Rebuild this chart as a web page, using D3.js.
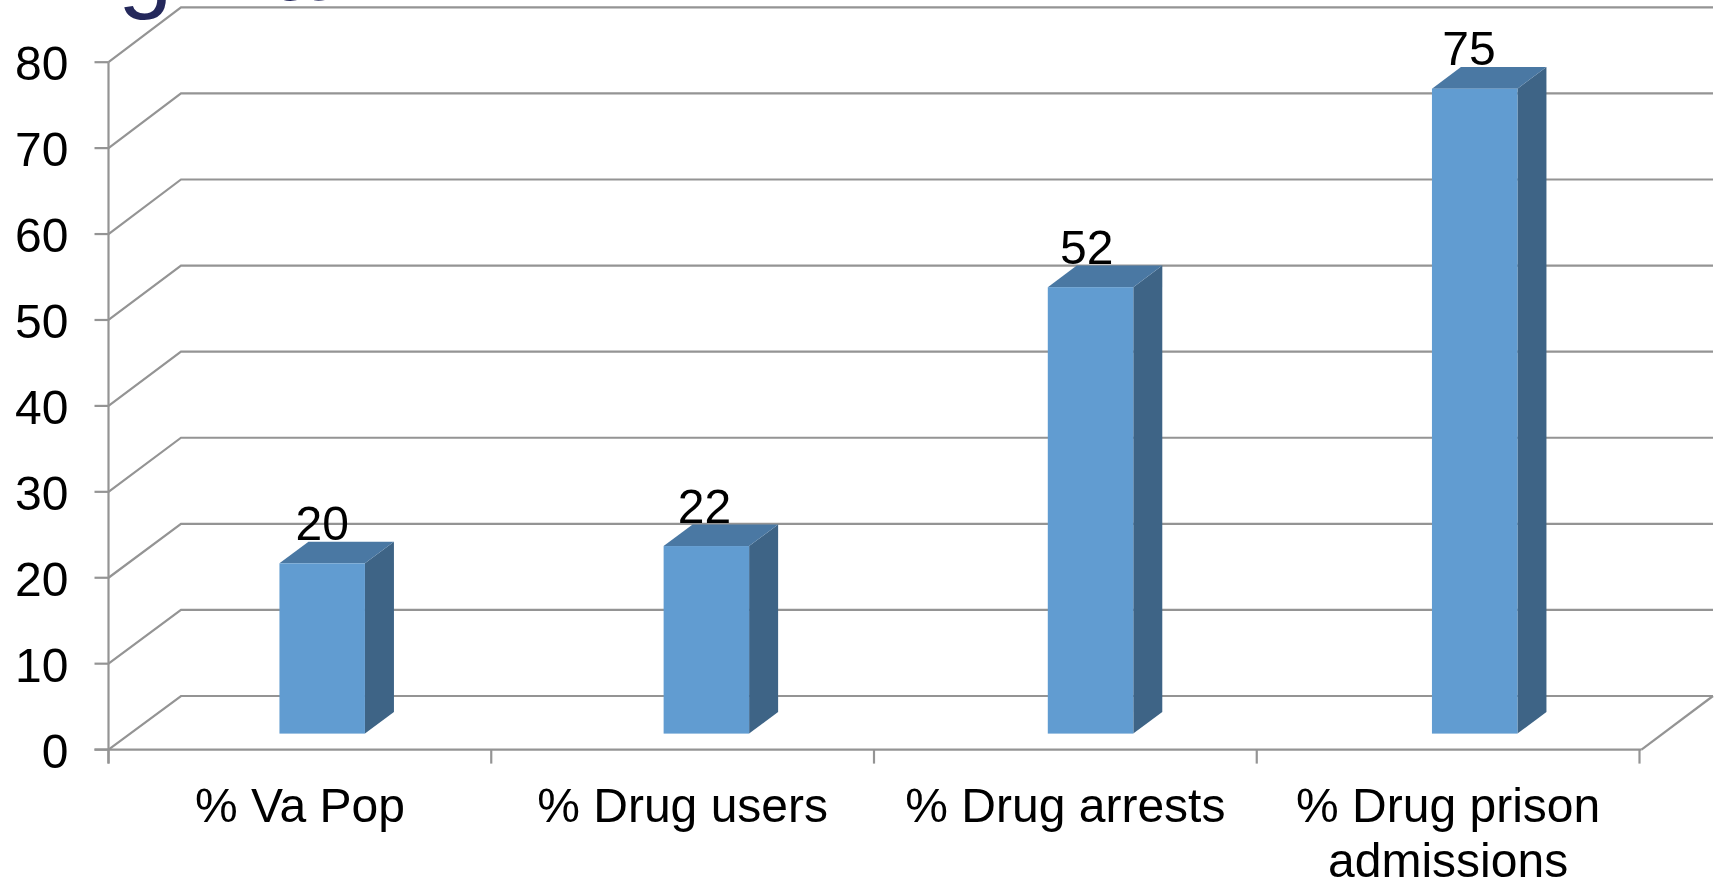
<!DOCTYPE html>
<html><head><meta charset="utf-8">
<script src="https://cdn.jsdelivr.net/npm/d3@7"></script>
<style>html,body{margin:0;padding:0;background:#fff;overflow:hidden}svg{display:block;filter:blur(0.45px)}text{font-family:"Liberation Sans",Arial,sans-serif;fill:#000}</style>
</head><body><svg id="c" width="1719" height="882"></svg>
<script>
const categories = ["% Va Pop", "% Drug users", "% Drug arrests", "% Drug prison admissions"];
const values = [20, 22, 52, 75];
const valueTicks = [0, 10, 20, 30, 40, 50, 60, 70, 80];
const titleText = "Virginia:";
const categoryLines = [["% Va Pop"], ["% Drug users"], ["% Drug arrests"], ["% Drug prison", "admissions"]];

const axisLeft = 108.5, axisRight = 1639.5, axisBottom = 749.6, axisTop = 62.2;
const backLeft = 181, backRight = 1713;
const barDepthX = 29, barDepthY = -21.6, barFrontBase = 733.6, barW = 85.5;
const grid = "#949494";
const fontSize = 48;
const svg = d3.select("#c");

const y = d3.scaleLinear().domain([0, 80]).range([axisBottom, axisTop]);
const yBack = d3.scaleLinear().domain([0, 80]).range([696, 7.3]);
const x = d3.scaleBand().domain(categories).range([axisLeft, axisRight]);
const barX = d3.scalePoint().domain(categories).range([322.2, 1474.7]);
const valueLabelX = d3.scalePoint().domain(categories).range([322.2, 1469]);
const barY = d3.scaleLinear().domain([20, 75]).range([563.3, 88.7]);

// title fragment cropped by the top edge
svg.append("text").attr("class", "title").attr("x", 0).attr("y", -0.3)
  .attr("font-size", 98).style("fill", "#24285b").text(titleText);

// back wall + side wall gridlines
const g = svg.append("g").attr("fill", "none").attr("stroke", grid).attr("stroke-width", 2.2);
g.selectAll("path.grid").data(valueTicks).join("path").attr("class", "grid")
  .attr("d", d => {
    const p = d3.path();
    p.moveTo(axisLeft, y(d));
    p.lineTo(backLeft, yBack(d));
    p.lineTo(backRight, yBack(d));
    return p.toString();
  });
// floor right edge
g.append("path").attr("d", () => {
  const p = d3.path();
  p.moveTo(axisRight + 2, axisBottom);
  p.lineTo(backRight, yBack(0));
  return p.toString();
});

// y axis
g.append("line").attr("x1", axisLeft).attr("x2", axisLeft).attr("y1", axisTop).attr("y2", axisBottom + 14);
g.selectAll("line.yt").data(valueTicks).join("line").attr("class", "yt")
  .attr("x1", axisLeft - 14).attr("x2", axisLeft).attr("y1", d => y(d)).attr("y2", d => y(d));
svg.selectAll("text.yl").data(valueTicks).join("text").attr("class", "yl")
  .attr("x", 68.5).attr("y", d => y(d) + 18).attr("text-anchor", "end").attr("font-size", fontSize).text(d => d);

// x axis
g.append("line").attr("x1", axisLeft - 14).attr("x2", axisRight + 2).attr("y1", axisBottom).attr("y2", axisBottom);
const xEdges = categories.map(c => x(c)).concat([axisRight]);
g.selectAll("line.xt").data(xEdges).join("line").attr("class", "xt")
  .attr("x1", d => d).attr("x2", d => d).attr("y1", axisBottom).attr("y2", axisBottom + 14);

// bars
const barG = svg.selectAll("g.bar").data(categories.map((c, i) => ({c, v: values[i]}))).join("g").attr("class", "bar");
const fx = d => barX(d.c) - barW / 2;
const ty = d => barY(d.v);
barG.append("path").attr("fill", "#3e6486").attr("d", d => {
  const a = fx(d) + barW;
  return `M${a},${barFrontBase}L${a + barDepthX},${barFrontBase + barDepthY}L${a + barDepthX},${ty(d) + barDepthY}L${a},${ty(d)}Z`;
});
barG.append("path").attr("fill", "#4a78a3").attr("d", d => {
  const a = fx(d);
  return `M${a},${ty(d)}L${a + barDepthX},${ty(d) + barDepthY}L${a + barW + barDepthX},${ty(d) + barDepthY}L${a + barW},${ty(d)}Z`;
});
barG.append("rect").attr("fill", "#619cd1").attr("x", fx).attr("y", ty).attr("width", barW).attr("height", d => barFrontBase - ty(d));
barG.append("text").attr("x", d => valueLabelX(d.c)).attr("y", d => ty(d) - 23.5)
  .attr("text-anchor", "middle").attr("font-size", fontSize).text(d => d.v);

// category labels
const lab = svg.selectAll("text.xl").data(categories).join("text").attr("class", "xl")
  .attr("text-anchor", "middle").attr("font-size", fontSize)
  .attr("transform", d => `translate(${x(d) + x.bandwidth() / 2},${822})`);
lab.selectAll("tspan").data((d, i) => categoryLines[i]).join("tspan").attr("x", 0).attr("dy", (d, i) => i ? 55 : 0).text(d => d);
</script></body></html>
